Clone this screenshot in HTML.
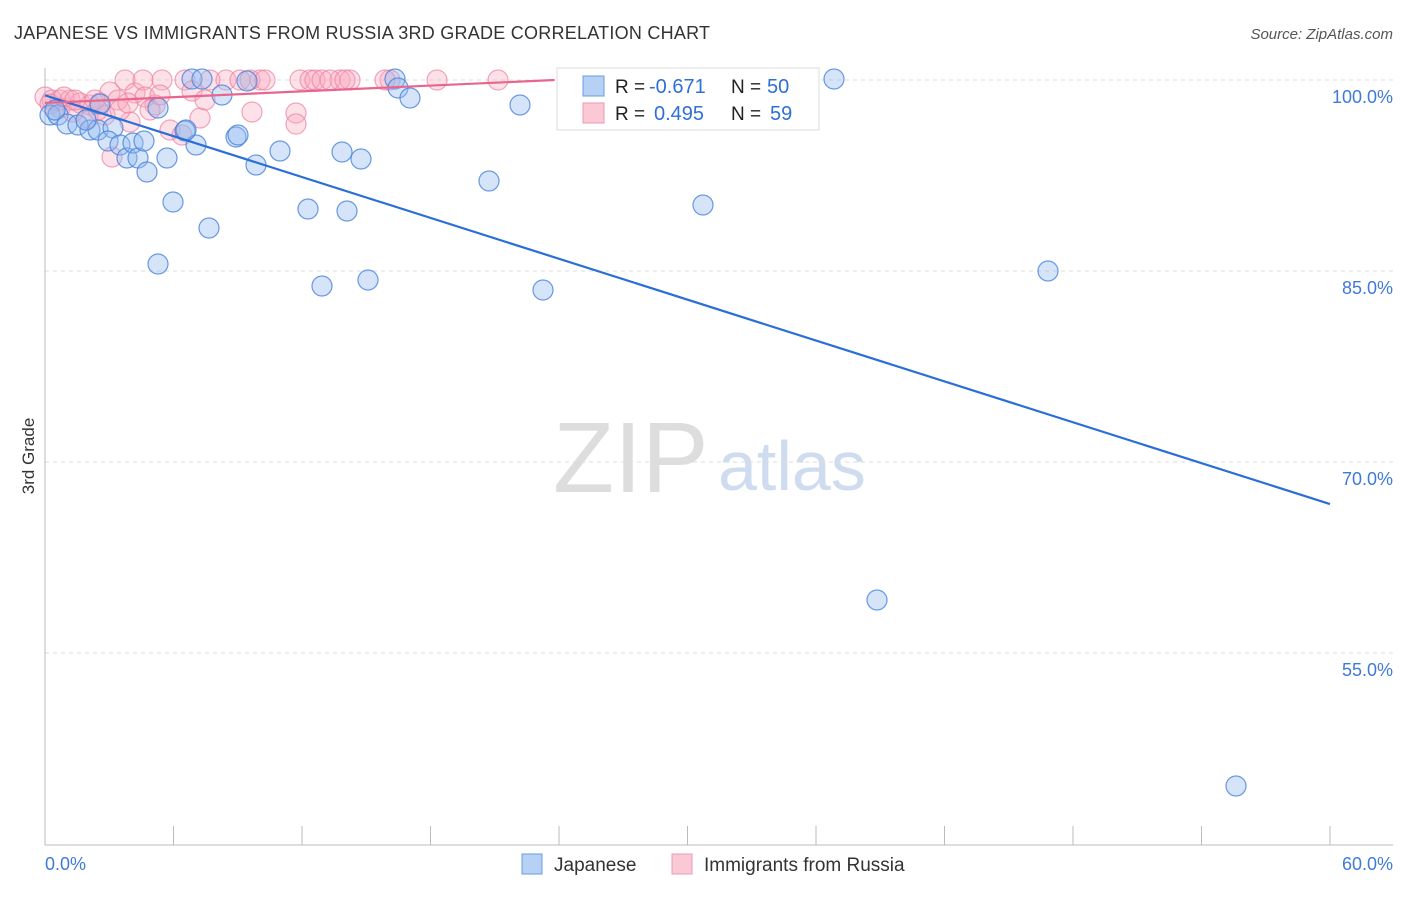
<!DOCTYPE html>
<html><head><meta charset="utf-8"><style>
body{margin:0;background:#fff;font-family:"Liberation Sans",sans-serif}
svg text{font-family:"Liberation Sans",sans-serif}
</style></head><body>
<svg width="1406" height="892">
<text x="14" y="39" font-size="18" fill="#333" textLength="696">JAPANESE VS IMMIGRANTS FROM RUSSIA 3RD GRADE CORRELATION CHART</text>
<text x="1393" y="39" font-size="15" fill="#555" font-style="italic" text-anchor="end">Source: ZipAtlas.com</text>
<text x="34" y="456" font-size="17" fill="#333" transform="rotate(-90 34 456)" text-anchor="middle">3rd Grade</text>
<text x="553" y="492" font-size="100" fill="#ddd" font-family="Liberation Serif">ZIP</text>
<text x="718" y="490" font-size="70" fill="#cfdcf0">atlas</text>
<g id="grid"></g><g id="axes"></g><g id="pts"></g><g id="lines"></g>
<g>
<rect x="557" y="68" width="262" height="62" fill="#fff" stroke="#ddd"/>
<rect x="583" y="76" width="21" height="20" fill="#b7d0f5" stroke="#6a9de0"/>
<rect x="583" y="103" width="21" height="20" fill="#fbc8d6" stroke="#ee98b1"/>
<text x="615" y="93" font-size="19" fill="#222">R =</text>
<text x="649" y="93" font-size="20" fill="#2f6fd6">-0.671</text>
<text x="731" y="93" font-size="19" fill="#222">N =</text>
<text x="767" y="93" font-size="20" fill="#2f6fd6">50</text>
<text x="615" y="120" font-size="19" fill="#222">R =</text>
<text x="654" y="120" font-size="20" fill="#2f6fd6">0.495</text>
<text x="731" y="120" font-size="19" fill="#222">N =</text>
<text x="770" y="120" font-size="20" fill="#2f6fd6">59</text>
</g>
<g>
<rect x="522" y="854" width="20" height="20" fill="#b7d0f5" stroke="#6a9de0"/>
<text x="554" y="871" font-size="19" fill="#333">Japanese</text>
<rect x="672" y="854" width="20" height="20" fill="#fbc8d6" stroke="#ee98b1"/>
<text x="704" y="871" font-size="19" fill="#333">Immigrants from Russia</text>
</g>
</svg>
<script>
const yTicks=[100,85,70,55];
const xTickLabels=["0.0%","60.0%"];
const bluePx=[[50,115],[58,115],[67,124],[78,125],[90,130],[98,130],[113,128],[108,141],[120,145],[127,158],[133,143],[138,158],[144,141],[147,172],[158,108],[158,264],[167,158],[173,202],[185,131],[196,145],[192,79],[202,79],[209,228],[222,95],[236,137],[238,135],[247,81],[256,165],[280,151],[308,209],[322,286],[342,152],[347,211],[361,159],[368,280],[395,79],[398,88],[410,98],[489,181],[520,105],[543,290],[703,205],[834,79],[877,600],[1048,271],[1236,786],[100,104],[55,110],[186,130],[86,120]];
const pinkPx=[[45,97],[52,100],[60,100],[70,100],[80,103],[90,105],[100,103],[110,92],[118,100],[125,80],[135,93],[143,80],[155,105],[162,80],[185,80],[192,91],[200,118],[226,80],[240,80],[252,112],[260,80],[300,80],[310,80],[315,80],[322,80],[340,80],[350,80],[390,80],[437,80],[498,80],[296,113],[296,124],[170,130],[182,135],[112,157],[130,122],[145,97],[105,115],[88,118],[60,108],[73,112],[50,104],[64,97],[120,110],[95,100],[150,110],[210,80],[250,80],[265,80],[330,80],[345,80],[385,80],[580,80],[780,80],[205,100],[128,103],[75,100],[98,110],[160,95]];
const blueX=bluePx.map(p=>(p[0]-45)/1285*60), blueY=bluePx.map(p=>100-(p[1]-80)/191*15);
const pinkX=pinkPx.map(p=>(p[0]-45)/1285*60), pinkY=pinkPx.map(p=>100-(p[1]-80)/191*15);
const blueTrend=[[0,98.8],[60,66.7]];
const pinkTrend=[[0,98.2],[23.8,100]];
const sx=v=>45+v/60*1285, sy=v=>80+(100-v)/15*191;
const NS="http://www.w3.org/2000/svg";
function mk(t,a,p){const e=document.createElementNS(NS,t);for(const k in a)e.setAttribute(k,a[k]);document.getElementById(p).appendChild(e);return e;}
yTicks.forEach(v=>{
 const l=mk('line',{x1:45,x2:1393,y1:sy(v),y2:sy(v),stroke:'#ddd','stroke-dasharray':'4,4'},'grid');
 
 
 const t=mk('text',{x:1393,y:sy(v)+23,'font-size':18,fill:'#3f7ad8','text-anchor':'end'},'grid');
 t.textContent=v.toFixed(1)+'%';
 
 
});
mk('line',{x1:45,x2:45,y1:68,y2:845,stroke:'#bbb'},'axes');
mk('line',{x1:45,x2:1393,y1:845,y2:845,stroke:'#bbb'},'axes');
for(let i=0;i<=10;i++){const x=45+i*128.5;const t=mk('line',{x1:x,x2:x,y1:826,y2:845,stroke:'#bbb'},'axes');}
[[45,'start'],[1393,'end']].forEach((p,i)=>{const t=mk('text',{x:p[0],y:870,'font-size':18,fill:'#3f7ad8','text-anchor':p[1]},'axes');t.textContent=xTickLabels[i];});
pinkX.forEach((x,i)=>{const c=mk('circle',{cx:sx(x),cy:sy(pinkY[i]),r:10,fill:'rgba(248,170,192,0.35)',stroke:'rgba(236,130,160,0.7)','stroke-width':1.2},'pts');
 
 });
blueX.forEach((x,i)=>{const c=mk('circle',{cx:sx(x),cy:sy(blueY[i]),r:10,fill:'rgba(150,188,240,0.4)',stroke:'rgba(70,130,220,0.8)','stroke-width':1.2},'pts');
 
 });
const bl=mk('line',{x1:sx(blueTrend[0][0]),y1:sy(blueTrend[0][1]),x2:sx(blueTrend[1][0]),y2:sy(blueTrend[1][1]),stroke:'#2a6fd8','stroke-width':2.2},'lines');


const pl=mk('line',{x1:sx(pinkTrend[0][0]),y1:sy(pinkTrend[0][1]),x2:sx(pinkTrend[1][0]),y2:sy(pinkTrend[1][1]),stroke:'#e8668e','stroke-width':2.2},'lines');


</script>
</body></html>
